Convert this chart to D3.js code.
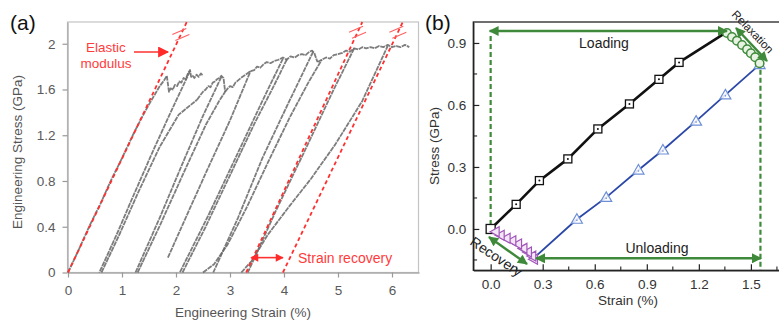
<!DOCTYPE html>
<html><head><meta charset="utf-8">
<script src="https://cdn.jsdelivr.net/npm/d3@7"></script>
<style>body{margin:0;background:#fff} svg{display:block} text{font-family:"Liberation Sans",Arial,sans-serif}</style>
</head><body><svg id="c" width="779" height="323"></svg>
<script>
// ---------- Panel (a) data: [strain %, stress GPa] ----------
const aXTicks = [0,1,2,3,4,5,6];
const aYTicks = [0,0.4,0.8,1.2,1.6,2];
const aLoad0 = [[0,0],[0.2,0.2],[0.4,0.41],[0.6,0.6],[0.8,0.81],[1.0,1.0],[1.2,1.2],[1.35,1.34],[1.5,1.47],[1.6,1.55],[1.7,1.63],[1.78,1.68],[1.83,1.72]];
const aFlow1 = [[1.83,1.72],[1.87,1.58],[1.9,1.61],[1.94,1.6],[1.98,1.64],[2.02,1.63],[2.06,1.67],[2.1,1.66],[2.14,1.7],[2.18,1.69],[2.22,1.74],[2.26,1.77],[2.28,1.71],[2.31,1.72],[2.34,1.7],[2.38,1.73],[2.42,1.71],[2.46,1.74],[2.5,1.72]];
const aFlow2 = [[2.39,1.51],[2.45,1.55],[2.5,1.58],[2.55,1.6],[2.6,1.63],[2.64,1.62],[2.68,1.66],[2.72,1.67],[2.76,1.69],[2.8,1.7],[2.84,1.72],[2.88,1.7],[2.91,1.58]];
const aFlow3 = [[2.91,1.58],[2.96,1.61],[3.0,1.63],[3.05,1.62],[3.1,1.66],[3.15,1.68],[3.2,1.7],[3.26,1.72],[3.32,1.74],[3.38,1.76],[3.45,1.77],[3.5,1.8],[3.56,1.79],[3.62,1.82],[3.68,1.84],[3.75,1.83],[3.82,1.85],[3.9,1.86],[3.98,1.88],[4.05,1.86],[4.12,1.89],[4.2,1.88],[4.26,1.9],[4.33,1.91],[4.4,1.9],[4.47,1.93],[4.52,1.94],[4.56,1.92],[4.62,1.84]];
const aFlow4 = [[4.62,1.84],[4.7,1.86],[4.78,1.88],[4.85,1.87],[4.92,1.9],[5.0,1.91],[5.08,1.92],[5.15,1.94],[5.22,1.93],[5.3,1.96],[5.38,1.95],[5.45,1.97],[5.52,1.96],[5.6,1.97],[5.68,1.96],[5.76,1.98],[5.84,1.97],[5.92,1.99],[6.0,1.97],[6.08,1.98],[6.16,1.97],[6.24,1.99],[6.32,1.97]];
const aUnload1 = [[2.26,1.76],[1.95,1.45],[1.6,1.09],[1.2,0.66],[0.9,0.33],[0.58,0]];
const aReload1 = [[0.62,0],[0.95,0.33],[1.3,0.7],[1.7,1.1],[2.05,1.38],[2.39,1.51]];
const aUnload2 = [[2.84,1.71],[2.5,1.37],[2.1,0.93],[1.7,0.48],[1.25,0]];
const aReload2 = [[1.29,0],[1.72,0.43],[2.15,0.88],[2.55,1.29],[2.8,1.5],[2.91,1.58]];
const aPartial3 = [[1.85,0.13],[2.2,0.5],[2.6,0.92],[3.0,1.33],[3.38,1.76]];
const aUnload4 = [[3.98,1.87],[3.6,1.5],[3.1,1.0],[2.6,0.5],[2.07,0]];
const aReload4 = [[2.12,0],[2.55,0.4],[3.0,0.85],[3.45,1.3],[3.8,1.62],[4.05,1.86]];
const aUnload5 = [[4.54,1.93],[4.1,1.5],[3.6,1.0],[3.15,0.48],[2.69,0]];
const aReload5 = [[2.5,0],[2.7,0.07],[2.95,0.24],[3.3,0.56],[3.7,0.96],[4.1,1.35],[4.45,1.66],[4.7,1.86]];
const aUnload6 = [[5.3,1.96],[4.9,1.58],[4.4,1.08],[3.85,0.54],[3.33,0]];
const aReload6 = [[3.21,0],[3.4,0.1],[3.7,0.33],[4.1,0.58],[4.5,0.82],[4.95,1.12],[5.45,1.5],[5.92,1.98]];
const aElastic = [[0,0],[2.2,2.19]];
const aRecov1 = [[3.3,0],[5.45,2.19]];
const aRecov2 = [[3.98,0],[6.2,2.19]];

// ---------- Panel (b) data ----------
const bXTicks = [0,0.3,0.6,0.9,1.2,1.5];
const bXMinor = [0.15,0.45,0.75,1.05,1.35,1.65];
const bYTicks = [0,0.3,0.6,0.9];
const bYMinor = [-0.15,0.15,0.45,0.75];
const loadStrain = [0,0.147,0.281,0.445,0.618,0.80,0.97,1.086,1.36];
const loadStress = [0,0.119,0.234,0.339,0.484,0.605,0.724,0.806,0.952];
const relaxStrain = [1.362,1.391,1.42,1.449,1.478,1.5,1.525,1.55];
const relaxStress = [0.948,0.929,0.911,0.890,0.869,0.850,0.831,0.802];
const unloadStrain = [1.55,1.353,1.184,0.993,0.852,0.666,0.497,0.247];
const unloadStress = [0.795,0.649,0.522,0.382,0.285,0.153,0.047,-0.142];
const recovStrain = [0.247,0.237,0.212,0.186,0.155,0.122,0.089,0.055,0.026];
const recovStress = [-0.147,-0.131,-0.111,-0.094,-0.073,-0.057,-0.045,-0.03,-0.013];

const svg = d3.select("#c");
const defs = svg.append("defs");
function mk(id, color, w, h){
  defs.append("marker").attr("id",id).attr("viewBox","0 0 10 10").attr("refX",9).attr("refY",5)
    .attr("markerWidth",w).attr("markerHeight",h).attr("orient","auto-start-reverse").attr("markerUnits","userSpaceOnUse")
    .append("path").attr("d","M0,0L10,5L0,10Z").attr("fill",color);
}
mk("gArr","#3f8a3a",11,10);
mk("rArr","#ff2b2b",12,11);
mk("rArrS","#ff2b2b",9,8);

// ================= Panel (a) =================
const xA = d3.scaleLinear().domain([0,6.5]).range([68,419]);
const yA = d3.scaleLinear().domain([0,2.19]).range([272.5,22]);
const gA = svg.append("g");
gA.append("rect").attr("x",67.5).attr("y",22).attr("width",351).attr("height",250.5)
  .attr("fill","none").attr("stroke","#c4c4c4").attr("stroke-width",1.2);
const axA1 = gA.append("g").attr("transform","translate(0,272.5)")
  .call(d3.axisBottom(xA).tickValues(aXTicks).tickFormat(d3.format("~g")).tickSize(5).tickSizeOuter(0));
const axA2 = gA.append("g").attr("transform","translate(67.5,0)")
  .call(d3.axisLeft(yA).tickValues(aYTicks).tickFormat(d3.format("~g")).tickSize(5).tickSizeOuter(0));
[axA1,axA2].forEach(a=>{
  a.select(".domain").attr("stroke","#aaa").attr("stroke-width",1.3);
  a.selectAll(".tick line").attr("stroke","#999").attr("stroke-width",1.2);
  a.selectAll("text").attr("fill","#5a5a5a").style("font-size","13.5px").style("font-family","Liberation Sans, Arial");
});
axA1.selectAll("text").attr("dy","1.05em");
axA2.selectAll("text").attr("x",-12);

const lineA = d3.line().x(d=>xA(d[0])).y(d=>yA(d[1]));
const aCurves = [aLoad0,aFlow1,aFlow2,aFlow3,aFlow4,aUnload1,aReload1,aUnload2,aReload2,aPartial3,aUnload4,aReload4,aUnload5,aReload5,aUnload6,aReload6];
gA.selectAll("path.cv").data(aCurves).enter().append("path").attr("class","cv")
  .attr("d",lineA).attr("fill","none").attr("stroke","#666").attr("stroke-width",1.8)
  .attr("stroke-opacity",0.85).attr("stroke-linejoin","round").attr("stroke-dasharray","5,0.8");

const red = "#ff3030";
gA.selectAll("path.rd").data([aElastic,aRecov1,aRecov2]).enter().append("path").attr("class","rd")
  .attr("d",lineA).attr("fill","none").attr("stroke",red).attr("stroke-width",1.8).attr("stroke-dasharray","4,3");
// break marks
[[aElastic,2.08],[aRecov1,2.1],[aRecov2,2.1]].forEach(([L,s])=>{
  const t = s/ L[1][1];
  const px = xA(L[0][0]+(L[1][0]-L[0][0])*t), py = yA(s);
  [-3,3].forEach(o=>{
    gA.append("line").attr("x1",px-7+o*0.5).attr("y1",py+3+o).attr("x2",px+7+o*0.5).attr("y2",py-3+o)
      .attr("stroke","#ff6060").attr("stroke-width",1.1);
  });
});
gA.append("text").attr("x",106).attr("y",52).attr("text-anchor","middle").attr("fill","#ff3b3b").style("font-size","13.5px").text("Elastic");
gA.append("text").attr("x",106).attr("y",68).attr("text-anchor","middle").attr("fill","#ff3b3b").style("font-size","13.5px").text("modulus");
gA.append("line").attr("x1",134).attr("y1",52).attr("x2",168).attr("y2",52).attr("stroke",red).attr("stroke-width",1.6).attr("marker-end","url(#rArr)");
// strain recovery arrow
const ySR = yA(0.13);
gA.append("line").attr("x1",xA(3.39)).attr("y1",ySR).attr("x2",xA(3.98)).attr("y2",ySR)
  .attr("stroke",red).attr("stroke-width",1.6).attr("marker-start","url(#rArrS)").attr("marker-end","url(#rArrS)");
gA.append("text").attr("x",298).attr("y",ySR+5).attr("fill","#ff3b3b").style("font-size","14px").text("Strain recovery");

gA.append("text").attr("transform","translate(22,152) rotate(-90)").attr("text-anchor","middle").attr("fill","#555").style("font-size","13.5px").text("Engineering Stress (GPa)");
gA.append("text").attr("x",243).attr("y",317).attr("text-anchor","middle").attr("fill","#555").style("font-size","13.5px").text("Engineering Strain (%)");
svg.append("text").attr("x",10).attr("y",30).attr("fill","#111").style("font-size","21px").text("(a)");
svg.append("text").attr("x",425).attr("y",30).attr("fill","#111").style("font-size","21px").text("(b)");

// ================= Panel (b) =================
const xB = d3.scaleLinear().domain([-0.1,1.7]).range([473.3,785.6]);
const yB = d3.scaleLinear().domain([-0.2,1.0]).range([270.3,22.3]);
const gB = svg.append("g");
gB.append("rect").attr("x",473.3).attr("y",22).attr("width",340).attr("height",248.3)
  .attr("fill","none").attr("stroke","#222").attr("stroke-width",1.3);
const axB1 = gB.append("g").attr("transform","translate(0,270.3)")
  .call(d3.axisBottom(xB).tickValues(bXTicks).tickFormat(d3.format(".1f")).tickSizeInner(-6).tickSizeOuter(0).tickPadding(9));
const axB2 = gB.append("g").attr("transform","translate(473.3,0)")
  .call(d3.axisLeft(yB).tickValues(bYTicks).tickFormat(d3.format(".1f")).tickSizeInner(-6).tickSizeOuter(0).tickPadding(7));
[axB1,axB2].forEach(a=>{
  a.select(".domain").attr("stroke","#222").attr("stroke-width",1.3);
  a.selectAll(".tick line").attr("stroke","#222").attr("stroke-width",1.2);
  a.selectAll("text").attr("fill","#333").style("font-size","13.5px").style("font-family","Liberation Sans, Arial");
});
gB.selectAll("line.mx").data(bXMinor).enter().append("line").attr("class","mx")
  .attr("x1",d=>xB(d)).attr("x2",d=>xB(d)).attr("y1",270.3).attr("y2",266.5).attr("stroke","#222").attr("stroke-width",1.1);
gB.selectAll("line.my").data(bYMinor).enter().append("line").attr("class","my")
  .attr("y1",d=>yB(d)).attr("y2",d=>yB(d)).attr("x1",473.3).attr("x2",477.1).attr("stroke","#222").attr("stroke-width",1.1);
gB.append("text").attr("transform","translate(439,146) rotate(-90)").attr("text-anchor","middle").attr("fill","#333").style("font-size","13.5px").text("Stress (GPa)");
gB.append("text").attr("x",628).attr("y",305).attr("text-anchor","middle").attr("fill","#333").style("font-size","13.5px").text("Strain (%)");

const green = "#3f8a3a";
// dashed verticals
gB.append("line").attr("x1",xB(0)).attr("x2",xB(0)).attr("y1",36).attr("y2",yB(0)-4)
  .attr("stroke",green).attr("stroke-width",2.2).attr("stroke-dasharray","5,3");
gB.append("line").attr("x1",xB(1.555)).attr("x2",xB(1.555)).attr("y1",yB(0.77)).attr("y2",270)
  .attr("stroke",green).attr("stroke-width",2.2).attr("stroke-dasharray","5,3");

const lineB = d3.line().x(d=>xB(d[0])).y(d=>yB(d[1]));
const loadPts = loadStrain.map((s,i)=>[s,loadStress[i]]);
const unloadPts = unloadStrain.map((s,i)=>[s,unloadStress[i]]);
const relaxPts = relaxStrain.map((s,i)=>[s,relaxStress[i]]);
const recovPts = recovStrain.map((s,i)=>[s,recovStress[i]]);

gB.append("path").attr("d",lineB(loadPts)).attr("fill","none").attr("stroke","#111").attr("stroke-width",2.6);
gB.append("path").attr("d",lineB(unloadPts)).attr("fill","none").attr("stroke","#2b48a8").attr("stroke-width",1.8);
gB.append("path").attr("d",lineB(recovPts)).attr("fill","none").attr("stroke","#9a4fb0").attr("stroke-width",1.4);

// squares
loadPts.slice(0,-1).forEach((p,i)=>{
  const cx=xB(p[0]), cy=yB(p[1]), s= i===0?9:8;
  gB.append("rect").attr("x",cx-s/2).attr("y",cy-s/2).attr("width",s).attr("height",s)
    .attr("fill","#fff").attr("stroke","#111").attr("stroke-width",1.3);
  if(i>0) gB.append("circle").attr("cx",cx).attr("cy",cy).attr("r",1).attr("fill","#111");
});
// triangles (blue)
unloadPts.slice(0,-1).forEach(p=>{
  const cx=xB(p[0]), cy=yB(p[1]);
  gB.append("path").attr("d",`M${cx},${cy-5.5}L${cx+5.5},${cy+4}L${cx-5.5},${cy+4}Z`)
    .attr("fill","#fff").attr("fill-opacity",0.85).attr("stroke","#6e8fd6").attr("stroke-width",1.2);
  gB.append("circle").attr("cx",cx).attr("cy",cy+1).attr("r",0.8).attr("fill","#6e8fd6");
});
// relaxation circles
relaxPts.forEach(p=>{
  gB.append("circle").attr("cx",xB(p[0])).attr("cy",yB(p[1])).attr("r",4.3)
    .attr("fill","#e8f3e4").attr("stroke",green).attr("stroke-width",1.5);
});
// recovery triangles (left-pointing)
recovPts.forEach(p=>{
  const cx=xB(p[0]), cy=yB(p[1]);
  gB.append("path").attr("d",`M${cx-5},${cy}L${cx+4},${cy-5}L${cx+4},${cy+5}Z`)
    .attr("fill","#f3e6f6").attr("stroke","#a055b8").attr("stroke-width",1.2);
});

// green arrows
function garrow(x1,y1,x2,y2){
  gB.append("line").attr("x1",x1).attr("y1",y1).attr("x2",x2).attr("y2",y2)
    .attr("stroke",green).attr("stroke-width",2.4).attr("marker-start","url(#gArr)").attr("marker-end","url(#gArr)");
}
garrow(xB(0)-1,31,727,31);
garrow(736,28,767,61);
garrow(536,yB(-0.142),761,yB(-0.142));
garrow(489,237,527,264);

gB.append("text").attr("x",604).attr("y",48).attr("text-anchor","middle").attr("fill","#222").style("font-size","14px").text("Loading");
gB.append("text").attr("x",657).attr("y",253).attr("text-anchor","middle").attr("fill","#222").style("font-size","14px").text("Unloading");
gB.append("text").attr("transform","translate(731,15) rotate(46)").attr("fill","#222").style("font-size","11.5px").text("Relaxation");
gB.append("text").attr("transform","translate(469,244) rotate(34)").attr("fill","#222").style("font-size","14px").text("Recovery");
</script></body></html>
